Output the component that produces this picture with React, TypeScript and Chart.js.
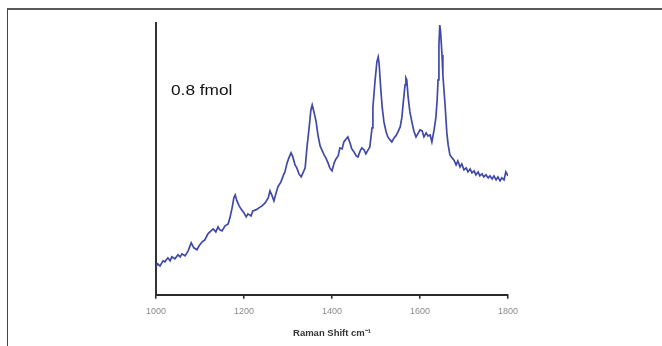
import React, { useEffect, useRef } from "react";
import { Chart, registerables } from "chart.js";

Chart.register(...registerables);

// Raman shift (cm^-1) and intensity (arbitrary units)
const ramanShift: number[] = [
  1000, 1004, 1009, 1016, 1020, 1027, 1032, 1036, 1043, 1050, 1055, 1059, 1066, 1073, 1080, 1086,
  1093, 1098, 1105, 1111, 1118, 1125, 1130, 1136, 1141, 1145, 1150, 1157, 1164, 1168, 1173, 1177,
  1180, 1184, 1189, 1193, 1200, 1205, 1209, 1216, 1220, 1227, 1234, 1241, 1248, 1255, 1259, 1264,
  1268, 1273, 1277, 1284, 1289, 1293, 1298, 1302, 1307, 1311, 1316, 1320, 1325, 1330, 1334, 1339,
  1343, 1348, 1352, 1355, 1359, 1364, 1368, 1373, 1377, 1382, 1386, 1391, 1395, 1400, 1405, 1409,
  1414, 1418, 1423, 1427, 1432, 1436, 1441, 1445, 1450, 1455, 1459, 1464, 1468, 1473, 1477, 1482,
  1486, 1491, 1493, 1498, 1502, 1505, 1507, 1511, 1514, 1518, 1523, 1527, 1532, 1536, 1541, 1545,
  1550, 1555, 1559, 1561, 1566, 1568, 1570, 1573, 1577, 1582, 1586, 1591, 1595, 1600, 1605, 1609,
  1614, 1618, 1623, 1627, 1632, 1636, 1639, 1641, 1643, 1645, 1647, 1650, 1652, 1657, 1661, 1664,
  1668, 1673, 1677, 1682, 1686, 1691, 1695, 1700, 1705, 1709, 1714, 1718, 1723, 1727, 1732, 1736,
  1741, 1745, 1750, 1755, 1759, 1764, 1768, 1773, 1777, 1782, 1786, 1791, 1795, 1800,
];

const intensity: number[] = [
  28, 31, 29, 34, 33, 37, 34, 38, 36, 40, 38, 41, 39, 44, 52, 47,
  45, 49, 53, 55, 61, 64, 66, 63, 68, 65, 64, 69, 71, 77, 87, 97,
  100, 94, 89, 86, 82, 78, 81, 79, 84, 85, 87, 89, 92, 97, 104, 99,
  94, 102, 108, 113, 119, 123, 132, 137, 142, 138, 130, 127, 121, 118, 122, 127,
  147, 167, 185, 190, 183, 173, 160, 149, 145, 140, 137, 132, 127, 124, 132, 136,
  139, 147, 146, 153, 156, 158, 152, 146, 143, 139, 138, 144, 147, 145, 141, 145,
  148, 167, 188, 215, 233, 238, 232, 205, 188, 173, 163, 158, 155, 153, 157, 159,
  163, 168, 178, 188, 210, 217, 215, 198, 183, 172, 164, 158, 161, 165, 164, 158,
  162, 159, 160, 153, 165, 177, 195, 215, 250, 270, 262, 240, 220, 190, 162, 150,
  140, 137, 135, 130, 134, 128, 131, 125, 127, 123, 126, 122, 124, 120, 123, 119,
  121, 118, 120, 117, 119, 116, 119, 115, 118, 114, 117, 115, 123, 119,
];

const xTicks: number[] = [1000, 1200, 1400, 1600, 1800];
const annotation = "0.8 fmol";
const xTitle = "Raman Shift cm\u207B\u00B9";

export default function App() {
  const canvasRef = useRef<HTMLCanvasElement | null>(null);

  useEffect(() => {
    if (!canvasRef.current) return;
    const points = ramanShift.map((x, i) => ({ x, y: intensity[i] }));
    const chart = new Chart(canvasRef.current, {
      type: "line",
      data: {
        datasets: [
          {
            data: points,
            borderColor: "#4049a8",
            borderWidth: 1.7,
            pointRadius: 0,
            tension: 0,
            fill: false,
          },
        ],
      },
      options: {
        animation: false,
        responsive: false,
        maintainAspectRatio: false,
        layout: { padding: { left: 156, right: 154, top: 23, bottom: 7 } },
        plugins: {
          legend: { display: false },
          tooltip: { enabled: false },
          title: { display: false },
        },
        scales: {
          x: {
            type: "linear",
            min: 1000,
            max: 1800,
            afterBuildTicks: (axis: any) => {
              axis.ticks = xTicks.map((v) => ({ value: v }));
            },
            ticks: {
              color: "#8a8a8a",
              font: { family: "'Liberation Sans', Arial, sans-serif", size: 9 },
              padding: 7,
              maxRotation: 0,
              autoSkip: false,
              callback: (v: any) => String(v),
            },
            grid: {
              display: true,
              drawOnChartArea: false,
              drawTicks: true,
              tickLength: 4,
              color: "#2a2a2a",
              lineWidth: 1.5,
            },
            border: { display: true, color: "#2a2a2a", width: 2 },
            title: {
              display: true,
              text: xTitle,
              color: "#333333",
              font: { family: "'Liberation Sans', Arial, sans-serif", size: 9.5, weight: "bold" },
              padding: { top: 4, bottom: 0 },
            },
          },
          y: {
            type: "linear",
            min: 0,
            max: 272,
            ticks: { display: false },
            grid: { display: false, drawTicks: false },
            border: { display: true, color: "#333333", width: 2 },
          },
        },
      },
    });
    return () => chart.destroy();
  }, []);

  return (
    <div style={{ position: "fixed", left: 0, top: 0, width: 662, height: 346, background: "#ffffff", overflow: "hidden" }}>
      <div
        style={{
          position: "absolute",
          left: 7,
          top: 8,
          width: 700,
          height: 400,
          borderTop: "2px solid #5a5a5a",
          borderLeft: "1px solid #444444",
        }}
      />
      <canvas ref={canvasRef} width={662} height={346} style={{ position: "absolute", left: 0, top: 0, display: "block" }} />
      <div
        style={{
          position: "absolute",
          left: 171,
          top: 81,
          fontFamily: "'Liberation Sans', Arial, sans-serif",
          fontSize: 15,
          lineHeight: "17px",
          color: "#111111",
          whiteSpace: "nowrap",
          transform: "scaleX(1.15)",
          transformOrigin: "left top",
        }}
      >
        {annotation}
      </div>
    </div>
  );
}
